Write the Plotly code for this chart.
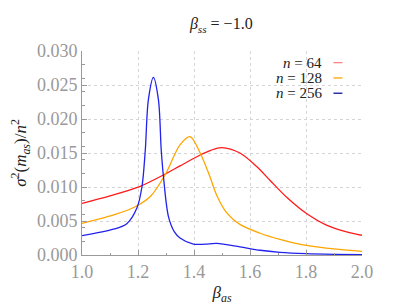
import plotly.graph_objects as go

# n = 64 (red)
x64 = [1.0, 1.1, 1.208, 1.297, 1.350, 1.422, 1.46, 1.499, 1.564, 1.624, 1.671, 1.731, 1.802, 1.873, 1.945, 2.0]
y64 = [0.0076, 0.0087, 0.0101, 0.0119, 0.0131, 0.0147, 0.0154, 0.0158, 0.0150, 0.0130, 0.0110, 0.0085, 0.0061, 0.0044, 0.0034, 0.0029]

# n = 128 (orange)
x128 = [1.0, 1.113, 1.19, 1.244, 1.297, 1.35, 1.386, 1.422, 1.457, 1.481, 1.517, 1.564, 1.636, 1.707, 1.79, 1.909, 2.0]
y128 = [0.00466, 0.0059, 0.0071, 0.0086, 0.0118, 0.0162, 0.0174, 0.0150, 0.0115, 0.0088, 0.0062, 0.0045, 0.0032, 0.0023, 0.0015, 0.00085, 0.00054]

# n = 256 (blue)
x256 = [1.0, 1.113, 1.16, 1.196, 1.214, 1.226, 1.237, 1.255, 1.273, 1.283, 1.291, 1.309, 1.33, 1.35, 1.398, 1.44, 1.481, 1.564, 1.636, 1.707, 1.8, 1.9, 2.0]
y256 = [0.00284, 0.0038, 0.0046, 0.0069, 0.0100, 0.0154, 0.0228, 0.0261, 0.0228, 0.0154, 0.0115, 0.0056, 0.0034, 0.0025, 0.0016, 0.0016, 0.0017, 0.0012, 0.0007, 0.0004, 0.0002, 0.0001, 0.00005]

series = [
    ("<i>n</i> = 64", x64, y64, "#ff1a1a", "#ff8080"),
    ("<i>n</i> = 128", x128, y128, "#ffa500", "#ffa500"),
    ("<i>n</i> = 256", x256, y256, "#2222ee", "#1010a0"),
]

xticks = [1.0, 1.2, 1.4, 1.6, 1.8, 2.0]
yticks = [0.000, 0.005, 0.010, 0.015, 0.020, 0.025, 0.030]

FONT = "Liberation Serif"

fig = go.Figure()
for name, xs, ys, col, lcol in series:
    fig.add_trace(go.Scatter(x=xs, y=ys, mode="lines", name=name,
                             line=dict(color=col, width=1.3, shape="spline", smoothing=0.9),
                             showlegend=False, hoverinfo="skip"))

# legend built from annotations + short line segments
for i, (name, xs, ys, col, lcol) in enumerate(series):
    yy = 0.943 - i * 0.075
    fig.add_annotation(xref="paper", yref="paper", x=0.865, y=yy, text=name,
                       showarrow=False, xanchor="right", yanchor="middle",
                       font=dict(family=FONT, size=15, color="#222"))
    fig.add_shape(type="line", xref="paper", yref="paper", x0=0.898, x1=0.93, y0=yy, y1=yy,
                  line=dict(color=lcol, width=1.3))

fig.update_layout(
    width=393, height=305,
    margin=dict(l=82, r=31, t=51, b=50),
    paper_bgcolor="white", plot_bgcolor="white",
    title=dict(text="<i>β</i><sub><i>ss</i></sub> = −1.0", x=0.563, xanchor="center",
               y=0.922, yanchor="middle", font=dict(family=FONT, size=16, color="#222")),
    font=dict(family=FONT),
)
fig.update_xaxes(range=[1.0, 2.0], tickvals=xticks, ticktext=[f"{v:.1f}" for v in xticks],
                 automargin=False,
                 showline=True, linecolor="#999", linewidth=1, mirror=False,
                 showgrid=True, gridcolor="#d4d4d4", griddash="dot", gridwidth=0.8,
                 ticks="inside", ticklen=5, tickcolor="#999",
                 minor=dict(ticks="inside", ticklen=2.5, tickcolor="#999", nticks=3, showgrid=False),
                 tickfont=dict(family=FONT, size=18, color="#999"),
                 title=dict(text="<i>β</i><sub><i>as</i></sub>", font=dict(family=FONT, size=17, color="#222"),
                            standoff=5),
                 zeroline=False)
fig.update_yaxes(range=[0.0, 0.030], tickvals=yticks, ticktext=[f"{v:.3f}" for v in yticks],
                 automargin=False,
                 showline=True, linecolor="#999", linewidth=1,
                 showgrid=True, gridcolor="#d4d4d4", griddash="dot", gridwidth=0.8,
                 ticks="inside", ticklen=5, tickcolor="#999",
                 minor=dict(ticks="inside", ticklen=2.5, tickcolor="#999", nticks=6, showgrid=False),
                 tickfont=dict(family=FONT, size=18, color="#999"),
                 title=dict(text="<i>σ</i><sup>2</sup>(<i>m</i><sub><i>as</i></sub>)/<i>n</i><sup>2</sup>",
                            font=dict(family=FONT, size=17, color="#222"), standoff=5),
                 zeroline=False)

fig.write_html("out.html", config={"displayModeBar": False},
               post_script="document.body.style.margin='0';")
